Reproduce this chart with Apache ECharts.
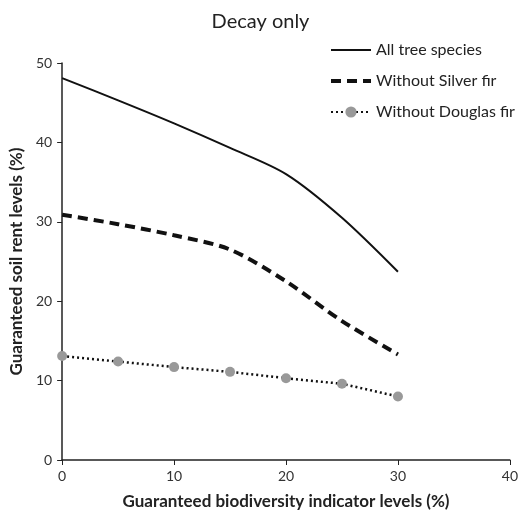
<!DOCTYPE html>
<html>
<head>
<meta charset="utf-8">
<script src="https://cdn.jsdelivr.net/npm/echarts@6/dist/echarts.min.js"></script>
<style>
  html, body { margin: 0; padding: 0; background: #fff; }
  #chart { width: 521px; height: 516px; }
</style>
</head>
<body>
<div id="chart"></div>
<script>
// biodiversity indicator levels (x)
const levels = [0, 5, 10, 15, 20, 25, 30];
const allSpecies = [48.1, 45.3, 42.4, 39.3, 36.0, 30.5, 23.7];
const noSilverFir = [30.9, 29.7, 28.3, 26.5, 22.5, 17.5, 13.3];
const noDouglasFir = [13.1, 12.4, 11.7, 11.1, 10.3, 9.6, 8.0];

function pairs(ys) {
    return levels.map((x, i) => [x, ys[i]]);
}

let myChart = echarts.init(document.getElementById('chart'));
const font = 'Lato, "Open Sans", sans-serif';

let option = {
    backgroundColor: '#fff',
    textStyle: { fontFamily: font },
    title: {
        text: 'Decay only',
        left: 'center',
        top: 7,
        textStyle: { fontFamily: font, fontSize: 20, fontWeight: 'normal', color: '#222' }
    },
    legend: {
        orient: 'vertical',
        left: 324,
        top: 37,
        itemWidth: 40,
        itemHeight: 14,
        itemGap: 15,
        textStyle: { fontFamily: font, fontSize: 16, color: '#222' },
        data: [
            { name: 'All tree species', itemStyle: { opacity: 0 } },
            { name: 'Without Silver fir', itemStyle: { opacity: 0 }, lineStyle: { width: 4 } },
            { name: 'Without Douglas fir' }
        ]
    },
    grid: { left: 62, right: 7, top: 63, bottom: 56 },
    xAxis: {
        type: 'value',
        min: 0, max: 40, interval: 10,
        name: 'Guaranteed biodiversity indicator levels (%)',
        nameLocation: 'middle',
        nameGap: 33,
        nameTextStyle: { fontFamily: font, fontSize: 17, fontWeight: 'bold', color: '#222' },
        axisLine: { lineStyle: { color: '#222', width: 1.5 } },
        axisTick: { length: 5, lineStyle: { color: '#222' } },
        axisLabel: { fontSize: 14, color: '#333', margin: 9 },
        splitLine: { show: false }
    },
    yAxis: {
        type: 'value',
        min: 0, max: 50, interval: 10,
        name: 'Guaranteed soil rent levels (%)',
        nameLocation: 'middle',
        nameGap: 36,
        nameTextStyle: { fontFamily: font, fontSize: 17, fontWeight: 'bold', color: '#222' },
        axisLine: { show: true, lineStyle: { color: '#222', width: 1.5 } },
        axisTick: { show: true, length: 5, lineStyle: { color: '#222' } },
        axisLabel: { fontSize: 14, color: '#333', margin: 10 },
        splitLine: { show: false }
    },
    series: [
        {
            name: 'All tree species',
            type: 'line',
            smooth: 0.3,
            symbol: 'none',
            color: '#111',
            lineStyle: { color: '#111', width: 2 },
            data: pairs(allSpecies)
        },
        {
            name: 'Without Silver fir',
            type: 'line',
            smooth: 0.3,
            symbol: 'none',
            color: '#111',
            lineStyle: { color: '#111', width: 4, type: [10, 6] },
            data: pairs(noSilverFir)
        },
        {
            name: 'Without Douglas fir',
            type: 'line',
            symbol: 'circle',
            symbolSize: 10,
            color: '#999',
            itemStyle: { color: '#999' },
            lineStyle: { color: '#111', width: 2.5, type: [2, 3] },
            data: pairs(noDouglasFir)
        }
    ]
};

myChart.setOption(option);
</script>
</body>
</html>
